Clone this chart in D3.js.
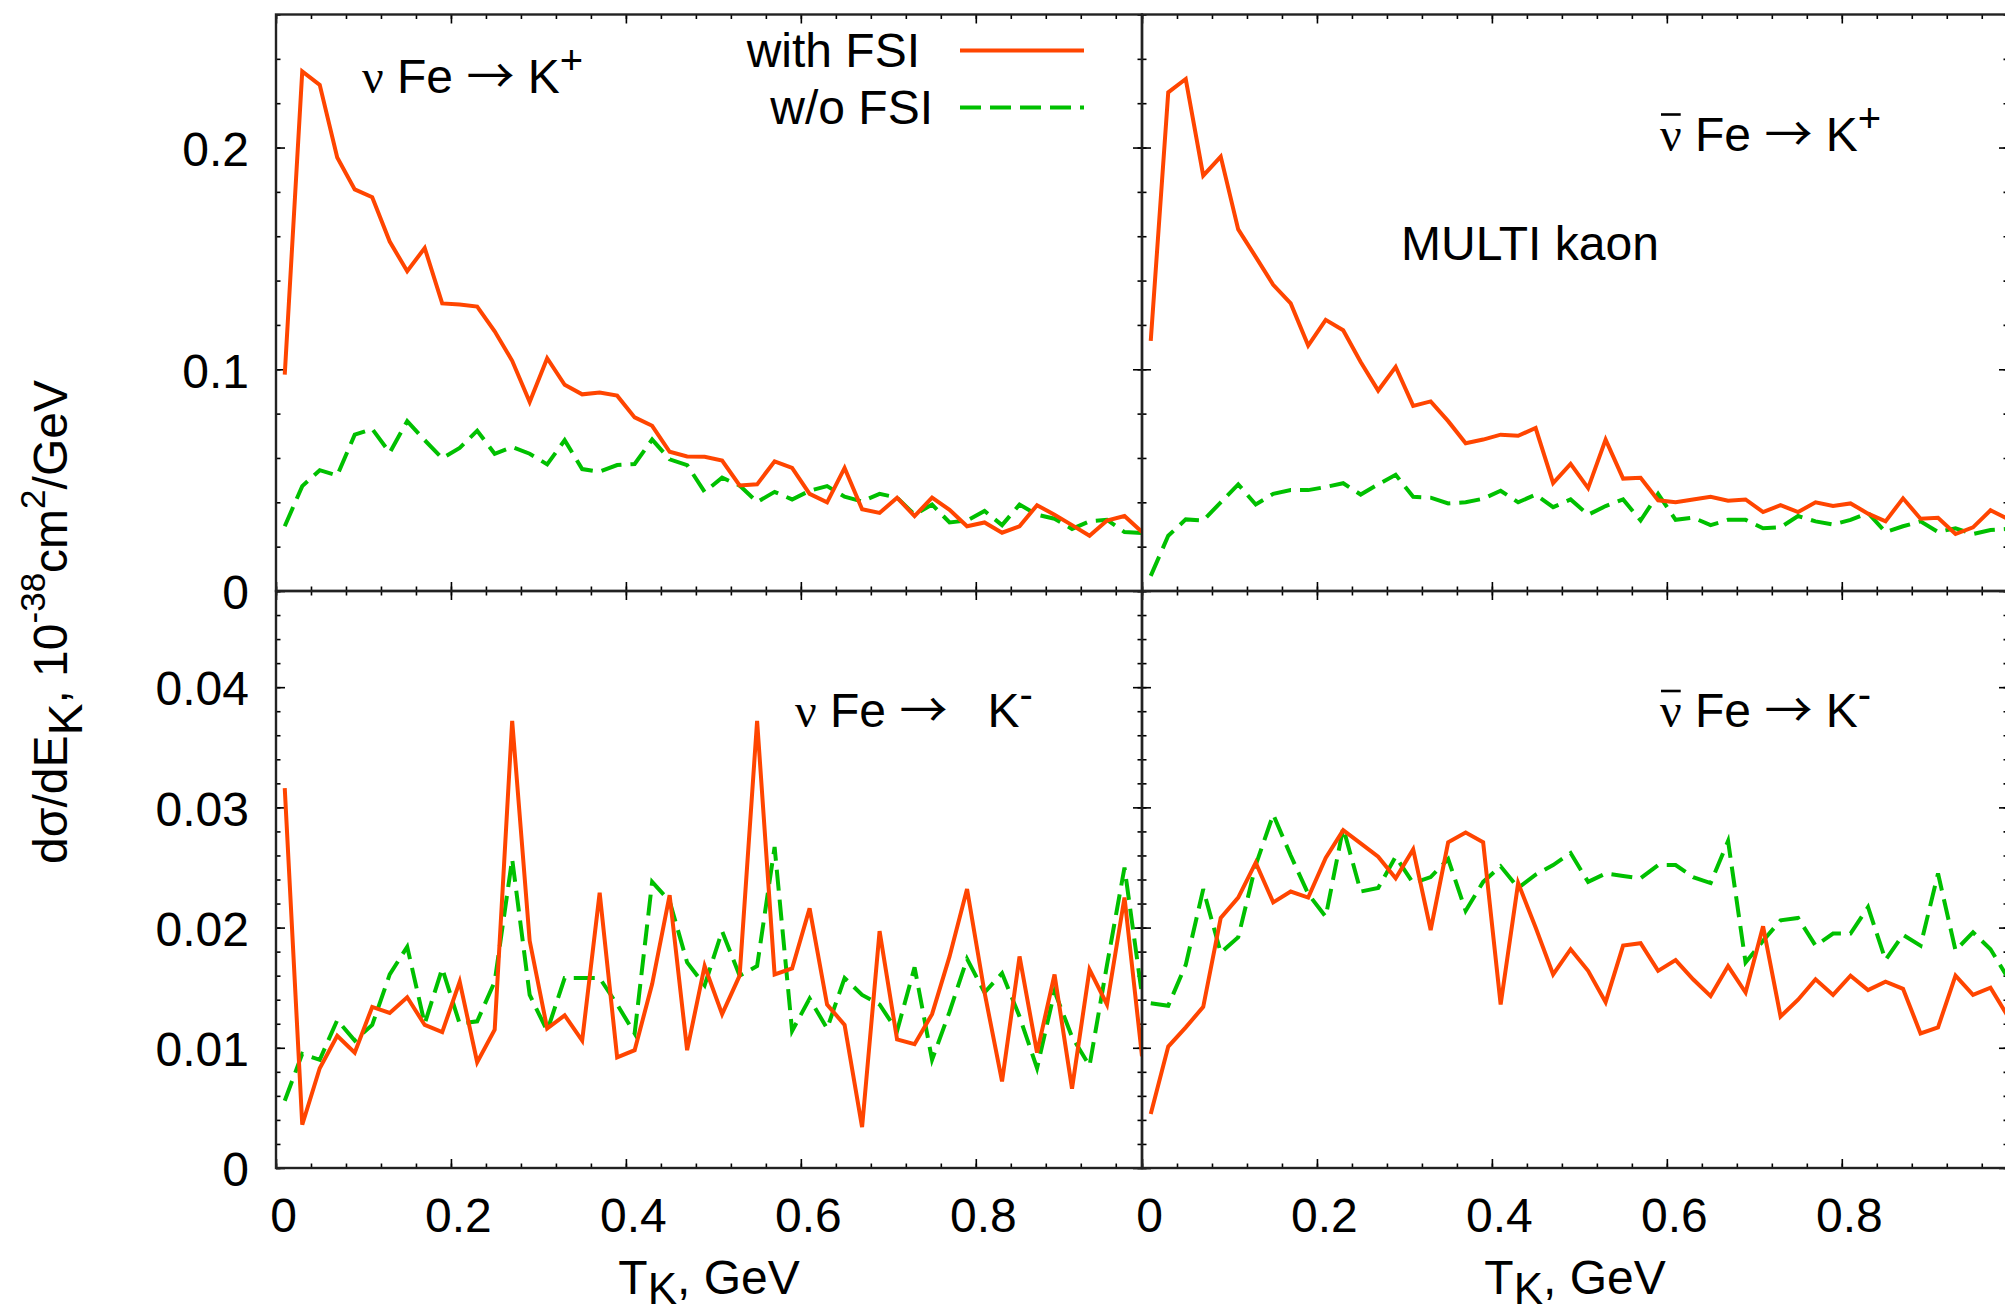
<!DOCTYPE html>
<html>
<head>
<meta charset="utf-8">
<script src="https://cdn.jsdelivr.net/npm/d3@7"></script>
<style>
  html, body { margin: 0; padding: 0; background: #fff; overflow: hidden; }
  svg text { font-family: "Liberation Sans", Arial, Helvetica, sans-serif; fill: #000; }
  .greek { font-family: "Liberation Serif", "Times New Roman", "DejaVu Serif", serif; }
  .arrow { font-family: "Noto Sans CJK JP", "Noto Sans CJK SC", "DejaVu Sans", sans-serif; }
</style>
</head>
<body>
<svg id="chart" width="2005" height="1314"></svg>
<script>
// Kaon kinetic energy bin centres, GeV
const energyBins = [0.01, 0.03, 0.05, 0.07, 0.09, 0.11, 0.13, 0.15, 0.17, 0.19,
                    0.21, 0.23, 0.25, 0.27, 0.29, 0.31, 0.33, 0.35, 0.37, 0.39,
                    0.41, 0.43, 0.45, 0.47, 0.49, 0.51, 0.53, 0.55, 0.57, 0.59,
                    0.61, 0.63, 0.65, 0.67, 0.69, 0.71, 0.73, 0.75, 0.77, 0.79,
                    0.81, 0.83, 0.85, 0.87, 0.89, 0.91, 0.93, 0.95, 0.97, 0.99];

// nu Fe -> K+  (10^-38 cm^2/GeV)
const nuKplusFSI = [0.0976, 0.2343, 0.2283, 0.1955, 0.1811, 0.1776, 0.1576, 0.1442, 0.1547, 0.1297,
                    0.1292, 0.1283, 0.1171, 0.1038, 0.0852, 0.1050, 0.0930, 0.0887, 0.0895, 0.0881,
                    0.0783, 0.0745, 0.0628, 0.0607, 0.0605, 0.0588, 0.0476, 0.0481, 0.0585, 0.0555,
                    0.0438, 0.0400, 0.0555, 0.0369, 0.0352, 0.0421, 0.0338, 0.0421, 0.0366, 0.0292,
                    0.0309, 0.0263, 0.0292, 0.0387, 0.0344, 0.0297, 0.0249, 0.0318, 0.0338, 0.0266];
const nuKplusNoFSI = [0.0292, 0.0473, 0.0545, 0.0521, 0.0705, 0.0731, 0.0624, 0.0766, 0.0680, 0.0599,
                      0.0645, 0.0723, 0.0619, 0.0649, 0.0619, 0.0571, 0.0680, 0.0550, 0.0538, 0.0568,
                      0.0573, 0.0683, 0.0594, 0.0568, 0.0447, 0.0511, 0.0476, 0.0401, 0.0447, 0.0413,
                      0.0452, 0.0473, 0.0425, 0.0404, 0.0438, 0.0421, 0.0344, 0.0390, 0.0309, 0.0318,
                      0.0361, 0.0297, 0.0390, 0.0344, 0.0326, 0.0280, 0.0314, 0.0321, 0.0266, 0.0261];

// anti-nu Fe -> K+
const antinuKplusFSI = [0.1128, 0.2249, 0.2309, 0.1873, 0.1959, 0.1631, 0.1507, 0.1381, 0.1297, 0.1107,
                        0.1223, 0.1176, 0.1033, 0.0904, 0.1011, 0.0835, 0.0855, 0.0766, 0.0666, 0.0683,
                        0.0705, 0.0700, 0.0735, 0.0487, 0.0573, 0.0464, 0.0683, 0.0507, 0.0511, 0.0409,
                        0.0400, 0.0413, 0.0425, 0.0407, 0.0413, 0.0356, 0.0387, 0.0356, 0.0400, 0.0383,
                        0.0395, 0.0349, 0.0314, 0.0418, 0.0326, 0.0330, 0.0257, 0.0287, 0.0364, 0.0325];
const antinuKplusNoFSI = [0.0068, 0.0249, 0.0323, 0.0318, 0.0400, 0.0481, 0.0390, 0.0438, 0.0455, 0.0455,
                          0.0469, 0.0486, 0.0435, 0.0481, 0.0524, 0.0425, 0.0421, 0.0395, 0.0400, 0.0416,
                          0.0452, 0.0400, 0.0435, 0.0378, 0.0413, 0.0344, 0.0383, 0.0413, 0.0318, 0.0438,
                          0.0321, 0.0331, 0.0297, 0.0321, 0.0321, 0.0283, 0.0287, 0.0338, 0.0314, 0.0300,
                          0.0321, 0.0352, 0.0266, 0.0292, 0.0314, 0.0266, 0.0283, 0.0257, 0.0275, 0.0280];

// nu Fe -> K-
const nuKminusFSI = [0.0316, 0.0036, 0.0083, 0.0110, 0.0096, 0.0134, 0.0129, 0.0142, 0.0119, 0.0113,
                     0.0155, 0.0088, 0.0115, 0.0372, 0.0189, 0.0116, 0.0127, 0.0106, 0.0229, 0.0092,
                     0.0098, 0.0153, 0.0227, 0.0098, 0.0168, 0.0128, 0.0160, 0.0372, 0.0161, 0.0166,
                     0.0216, 0.0136, 0.0119, 0.0034, 0.0197, 0.0107, 0.0103, 0.0128, 0.0176, 0.0232,
                     0.0146, 0.0072, 0.0176, 0.0096, 0.0161, 0.0066, 0.0165, 0.0136, 0.0225, 0.0093];
const nuKminusNoFSI = [0.0056, 0.0095, 0.0090, 0.0123, 0.0106, 0.0119, 0.0161, 0.0184, 0.0120, 0.0166,
                       0.0120, 0.0122, 0.0155, 0.0257, 0.0144, 0.0114, 0.0158, 0.0158, 0.0158, 0.0136,
                       0.0112, 0.0238, 0.0222, 0.0171, 0.0152, 0.0197, 0.0160, 0.0168, 0.0267, 0.0114,
                       0.0141, 0.0116, 0.0158, 0.0144, 0.0136, 0.0114, 0.0167, 0.0090, 0.0130, 0.0174,
                       0.0146, 0.0162, 0.0126, 0.0083, 0.0147, 0.0109, 0.0085, 0.0169, 0.0250, 0.0144];

// anti-nu Fe -> K-
const antinuKminusFSI = [0.0045, 0.0101, 0.0117, 0.0134, 0.0208, 0.0225, 0.0254, 0.0221, 0.0230, 0.0225,
                         0.0258, 0.0281, 0.0270, 0.0259, 0.0241, 0.0265, 0.0198, 0.0271, 0.0279, 0.0271,
                         0.0136, 0.0237, 0.0200, 0.0161, 0.0182, 0.0164, 0.0138, 0.0185, 0.0187, 0.0164,
                         0.0173, 0.0157, 0.0143, 0.0168, 0.0146, 0.0201, 0.0126, 0.0140, 0.0157, 0.0144,
                         0.0160, 0.0148, 0.0155, 0.0149, 0.0112, 0.0117, 0.0160, 0.0144, 0.0150, 0.0126];
const antinuKminusNoFSI = [0.0137, 0.0135, 0.0169, 0.0232, 0.0179, 0.0192, 0.0252, 0.0294, 0.0260, 0.0228,
                           0.0209, 0.0283, 0.0230, 0.0233, 0.0259, 0.0237, 0.0242, 0.0257, 0.0214, 0.0238,
                           0.0251, 0.0233, 0.0244, 0.0252, 0.0262, 0.0238, 0.0245, 0.0243, 0.0241, 0.0252,
                           0.0252, 0.0242, 0.0237, 0.0272, 0.0171, 0.0189, 0.0206, 0.0208, 0.0185, 0.0195,
                           0.0195, 0.0217, 0.0173, 0.0194, 0.0185, 0.0245, 0.0181, 0.0196, 0.0182, 0.0158];

// Tick labels
const xTickValues = [0, 0.2, 0.4, 0.6, 0.8];
const yTicksKplus = [0, 0.1, 0.2];
const yTicksKminus = [0, 0.01, 0.02, 0.03, 0.04];
const legendLabels = ["with FSI", "w/o FSI"];

// ---------------------------------------------------------------------------
const svg = d3.select("#chart");
svg.append("rect").attr("width", 2005).attr("height", 1314).attr("fill", "#fff");

const FONT = 48;
const SUP = 40;
const RED = "#ff4500";
const GREEN = "#00c000";
const LINE_W = 4;
const DASH = "21,9";
const colX = [[276, 1142], [1142, 2008]];
const rowY = [[14.5, 591], [591, 1168]];
const xDomain = [0, 0.99];

const panels = [
  { col: 0, row: 0, yDomain: [0, 0.26],  yMajor: yTicksKplus,  yMinorStep: 0.02,  fsi: nuKplusFSI,      nofsi: nuKplusNoFSI },
  { col: 1, row: 0, yDomain: [0, 0.26],  yMajor: yTicksKplus,  yMinorStep: 0.02,  fsi: antinuKplusFSI,  nofsi: antinuKplusNoFSI },
  { col: 0, row: 1, yDomain: [0, 0.048], yMajor: yTicksKminus, yMinorStep: 0.002, fsi: nuKminusFSI,     nofsi: nuKminusNoFSI },
  { col: 1, row: 1, yDomain: [0, 0.048], yMajor: yTicksKminus, yMinorStep: 0.002, fsi: antinuKminusFSI, nofsi: antinuKminusNoFSI }
];

const MAJOR = 9, MINOR = 4.5;
const xMinor = d3.range(0, 0.97, 0.04);

function styleTicks(g) {
  g.select(".domain").remove();
  g.selectAll(".tick line").attr("stroke", "#000").attr("stroke-width", 1.6);
}

panels.forEach(p => {
  const [x0, x1] = colX[p.col];
  const [y0, y1] = rowY[p.row];
  const x = d3.scaleLinear().domain(xDomain).range([x0, x1]);
  const y = d3.scaleLinear().domain(p.yDomain).range([y1, y0]);
  const yMinor = d3.range(0, p.yDomain[1] + 1e-9, p.yMinorStep);
  const g = svg.append("g");

  const clipId = `clip-${p.col}-${p.row}`;
  svg.append("clipPath").attr("id", clipId)
    .append("rect").attr("x", x0).attr("y", y0).attr("width", x1 - x0).attr("height", y1 - y0);

  // minor ticks on all four sides, pointing inward
  [[d3.axisBottom, y1], [d3.axisTop, y0]].forEach(([axisFn, pos]) => {
    g.append("g").attr("transform", `translate(0,${pos})`)
      .call(axisFn(x).tickValues(xMinor).tickSize(-MINOR).tickFormat(""))
      .call(styleTicks);
  });
  [[d3.axisLeft, x0], [d3.axisRight, x1]].forEach(([axisFn, pos]) => {
    g.append("g").attr("transform", `translate(${pos},0)`)
      .call(axisFn(y).tickValues(yMinor).tickSize(-MINOR).tickFormat(""))
      .call(styleTicks);
  });

  // major ticks; labels only on the outer left and bottom edges
  const xb = g.append("g").attr("transform", `translate(0,${y1})`)
    .call(d3.axisBottom(x).tickValues(xTickValues).tickSize(-MAJOR).tickPadding(30)
      .tickFormat(p.row === 1 ? d3.format("") : ""))
    .call(styleTicks);
  xb.selectAll("text").attr("font-size", FONT).attr("x", 7).attr("fill", "#000");

  g.append("g").attr("transform", `translate(0,${y0})`)
    .call(d3.axisTop(x).tickValues(xTickValues).tickSize(-MAJOR).tickFormat(""))
    .call(styleTicks);

  const yl = g.append("g").attr("transform", `translate(${x0},0)`)
    .call(d3.axisLeft(y).tickValues(p.yMajor).tickSize(-MAJOR).tickPadding(27)
      .tickFormat(p.col === 0 ? d3.format("") : ""))
    .call(styleTicks);
  yl.selectAll("text").attr("font-size", FONT).attr("dy", "0.37em").attr("fill", "#000");

  g.append("g").attr("transform", `translate(${x1},0)`)
    .call(d3.axisRight(y).tickValues(p.yMajor).tickSize(-MAJOR).tickFormat(""))
    .call(styleTicks);

  // panel frame
  g.append("rect").attr("x", x0).attr("y", y0).attr("width", x1 - x0).attr("height", y1 - y0)
    .attr("fill", "none").attr("stroke", "#222").attr("stroke-width", 2.4);

  const line = d3.line().x((d, i) => x(energyBins[i])).y(d => y(d));
  const curves = svg.append("g").attr("clip-path", `url(#${clipId})`);
  curves.append("path").datum(p.nofsi).attr("d", line)
    .attr("fill", "none").attr("stroke", GREEN).attr("stroke-width", LINE_W)
    .attr("stroke-dasharray", DASH).attr("stroke-linejoin", "miter");
  curves.append("path").datum(p.fsi).attr("d", line)
    .attr("fill", "none").attr("stroke", RED).attr("stroke-width", LINE_W)
    .attr("stroke-linejoin", "miter");
});

// x-axis titles
[709, 1575].forEach(cx => {
  const t = svg.append("text").attr("x", cx).attr("y", 1294)
    .attr("text-anchor", "middle").attr("font-size", FONT);
  t.append("tspan").text("T");
  t.append("tspan").attr("dy", 10).attr("font-size", 44).text("K");
  t.append("tspan").attr("dy", -10).attr("font-size", FONT).text(", GeV");
});

// y-axis title
{
  const t = svg.append("text").attr("transform", "translate(67,622) rotate(-90)")
    .attr("text-anchor", "middle").attr("font-size", FONT);
  t.append("tspan").text("dσ/dE");
  t.append("tspan").attr("dy", 15).text("K");
  t.append("tspan").attr("dy", -15).text(", 10");
  t.append("tspan").attr("dy", -22).attr("font-size", 35).text("-38");
  t.append("tspan").attr("dy", 22).attr("font-size", FONT).text("cm");
  t.append("tspan").attr("dy", -22).attr("font-size", 35).text("2");
  t.append("tspan").attr("dy", 22).attr("font-size", FONT).text("/GeV");
}

// legend
const legendRows = [
  { label: legendLabels[0], xEnd: 920, base: 67, color: RED, dash: null },
  { label: legendLabels[1], xEnd: 933, base: 124, color: GREEN, dash: DASH }
];
legendRows.forEach(r => {
  svg.append("text").attr("x", r.xEnd).attr("y", r.base).attr("text-anchor", "end")
    .attr("font-size", FONT).text(r.label);
  svg.append("line").attr("x1", 960).attr("x2", 1084)
    .attr("y1", r.base - 16.5).attr("y2", r.base - 16.5)
    .attr("stroke", r.color).attr("stroke-width", LINE_W)
    .attr("stroke-dasharray", r.dash);
});

// reaction labels
function reaction(xStart, base, anti, arrowGap, charge) {
  const t = svg.append("text").attr("x", xStart).attr("y", base)
    .attr("font-size", FONT).attr("xml:space", "preserve").style("white-space", "pre");
  t.append("tspan").attr("class", "greek").text("ν");
  t.append("tspan").text(" Fe ");
  t.append("tspan").attr("class", "arrow").text("→");
  t.append("tspan").text(arrowGap + "K");
  t.append("tspan").attr("dy", -19).attr("font-size", SUP).text(charge);
  if (anti) {
    const ext = t.node().getExtentOfChar(0);
    svg.append("line")
      .attr("x1", ext.x + 1).attr("x2", ext.x + ext.width - 1)
      .attr("y1", base - 36).attr("y2", base - 36)
      .attr("stroke", "#000").attr("stroke-width", 2.6);
  }
}
reaction(362, 93, false, " ", "+");
reaction(1660, 150.5, true, " ", "+");
reaction(795, 727, false, "   ", "-");
reaction(1660, 727, true, " ", "-");

svg.append("text").attr("x", 1401).attr("y", 260).attr("font-size", FONT).text("MULTI kaon");
</script>
</body>
</html>
